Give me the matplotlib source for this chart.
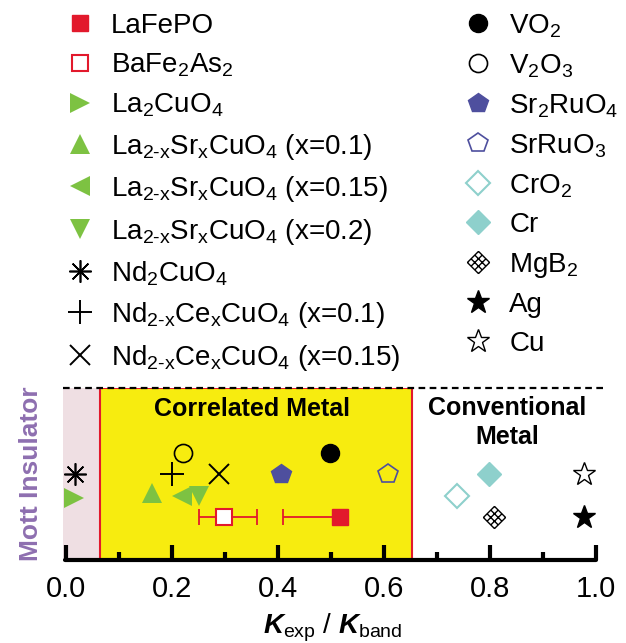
import matplotlib.pyplot as plt
import numpy as np
from matplotlib.path import Path
from matplotlib.transforms import Affine2D

plt.rcParams['font.family'] = 'Liberation Sans'
plt.rcParams['mathtext.fontset'] = 'custom'
plt.rcParams['mathtext.rm'] = 'Liberation Sans'
plt.rcParams['mathtext.it'] = 'Liberation Sans:italic:bold'
plt.rcParams['mathtext.bf'] = 'Liberation Sans:bold'

# data: K_exp/K_band ratio and a row position (no physical meaning) per compound
names = ['LaFePO', 'BaFe$_2$As$_2$', 'La$_2$CuO$_4$',
         r'La$_{\text{2-x}}$Sr$_{\text{x}}$CuO$_4$ (x=0.1)',
         r'La$_{\text{2-x}}$Sr$_{\text{x}}$CuO$_4$ (x=0.15)',
         r'La$_{\text{2-x}}$Sr$_{\text{x}}$CuO$_4$ (x=0.2)',
         'Nd$_2$CuO$_4$',
         r'Nd$_{\text{2-x}}$Ce$_{\text{x}}$CuO$_4$ (x=0.1)',
         r'Nd$_{\text{2-x}}$Ce$_{\text{x}}$CuO$_4$ (x=0.15)',
         'VO$_2$', 'V$_2$O$_3$', 'Sr$_2$RuO$_4$', 'SrRuO$_3$', 'CrO$_2$',
         'Cr', 'MgB$_2$', 'Ag', 'Cu']
kratio = [0.517, 0.298, 0.014, 0.162, 0.218, 0.250, 0.017, 0.200, 0.289,
          0.498, 0.220, 0.405, 0.608, 0.738, 0.798, 0.808, 0.977, 0.977]
row = [0.25, 0.25, 0.36, 0.39, 0.372, 0.372, 0.50, 0.50, 0.50,
       0.622, 0.622, 0.50, 0.50, 0.372, 0.50, 0.25, 0.25, 0.50]
# error bars (lower, upper) for the two iron pnictides
err_names = ['LaFePO', 'BaFe$_2$As$_2$']
err_lo = [0.108, 0.047]
err_hi = [0.0, 0.062]

mott_edge = 0.064
corr_edge = 0.653

red = '#e2192c'
green = '#7dc242'
navy = '#4e4f9e'
teal = '#8ed0cc'

# MgB2 marker: diamond with a lattice inside
g = [-1, -1/3, 1/3, 1]
verts, codes = [], []
for v in g:
    verts += [(v, -1), (v, 1), (-1, v), (1, v)]
    codes += [Path.MOVETO, Path.LINETO, Path.MOVETO, Path.LINETO]
lattice = Path(verts, codes).transformed(Affine2D().rotate_deg(45))

styles = [
    dict(marker='s', color=red, ms=12),
    dict(marker='s', color=red, ms=11, mfc='white', mew=1.5),
    dict(marker='>', color=green, ms=15, mew=0),
    dict(marker='^', color=green, ms=15, mew=0),
    dict(marker='<', color=green, ms=15, mew=0),
    dict(marker='v', color=green, ms=15, mew=0),
    dict(marker=(8, 2, 0), color='black', ms=16, mew=1.2),
    dict(marker='+', color='black', ms=17, mew=1.4),
    dict(marker='x', color='black', ms=14, mew=1.4),
    dict(marker='o', color='black', ms=13),
    dict(marker='o', color='black', ms=13, mfc='none', mew=1.2),
    dict(marker='p', color=navy, ms=15),
    dict(marker='p', color=navy, ms=15, mfc='none', mew=1.2),
    dict(marker='D', color=teal, ms=12, mfc='none', mew=1.5),
    dict(marker='D', color=teal, ms=12),
    dict(marker=lattice, color='black', ms=16, mfc='none', mew=1.0),
    dict(marker='*', color='black', ms=17),
    dict(marker='*', color='black', ms=17, mfc='white', mew=1.0),
]

fig = plt.figure(figsize=(6.26, 6.43), dpi=100)
ax = fig.add_axes([0.1006, 0.129, 0.8627, 0.268])

ax.axvspan(-0.006, mott_edge, color='#efdfe3', lw=0, zorder=0)
ax.axvspan(mott_edge, corr_edge, facecolor='#f7ec0f', edgecolor=red,
           lw=1.5, zorder=0)
ax.axhline(1.0, color='black', ls=(0, (3, 2)), lw=1.6, clip_on=False, zorder=3)

for n, lo, hi in zip(err_names, err_lo, err_hi):
    i = names.index(n)
    ax.errorbar(kratio[i], row[i], xerr=[[lo], [hi]], fmt='none', ecolor=red,
                elinewidth=1.3, capsize=6, capthick=1.3, zorder=2)

handles = []
for n, x, y, st in zip(names, kratio, row, styles):
    h, = ax.plot(x, y, ls='none', label=n, zorder=4, **st)
    handles.append(h)

ax.text(0.351, 0.875, 'Correlated Metal', fontsize=18, fontweight='bold',
        ha='center', va='center')
ax.text(0.832, 0.80, 'Conventional\nMetal', fontsize=18, fontweight='bold',
        ha='center', va='center', linespacing=1.25)
fig.text(0.05, 0.264, 'Mott Insulator', fontsize=19, fontweight='bold',
         color='#8e6fb0', rotation=90, ha='center', va='center')

ax.set_xlim(-0.006, 1.013)
ax.set_ylim(0, 1)
ax.set_yticks([])
for s in ['top', 'left', 'right']:
    ax.spines[s].set_visible(False)
ax.spines['bottom'].set_linewidth(3)
ax.spines['bottom'].set_bounds(-0.003, 1.0)
ax.spines['bottom'].set_capstyle('round')
ax.set_xticks(np.arange(0, 1.01, 0.2))
ax.set_xticks(np.arange(0.1, 1.0, 0.2), minor=True)
ax.tick_params(axis='x', which='major', direction='in', length=11, width=3,
               labelsize=21, pad=11)
ax.tick_params(axis='x', which='minor', direction='in', length=6, width=3)
ax.set_xlabel(r'$K_{\mathrm{exp}}$ / $K_{\mathrm{band}}$', fontsize=20,
              labelpad=6)

fig.legend(handles=handles, loc='upper left', bbox_to_anchor=(0.105, 0.981),
           ncol=2, frameon=False, fontsize=20, handlelength=1.0,
           handletextpad=0.62, columnspacing=2.32, labelspacing=0.45,
           borderpad=0, borderaxespad=0, numpoints=1)

fig.savefig('out.png', dpi=100)
